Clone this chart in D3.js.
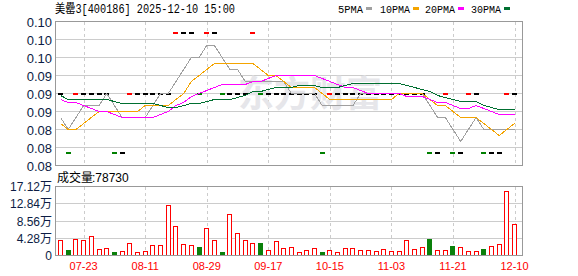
<!DOCTYPE html>
<html>
<head>
<meta charset="utf-8">
<script src="https://cdn.jsdelivr.net/npm/d3@7"></script>
<style>
  body { margin: 0; background: #fff; }
  svg { display: block; }
</style>
</head>
<body>
<div class="chart"></div>
<script>
// trading sessions (Mon/Wed/Fri), 2025
var dates = ["07-16","07-18","07-21","07-23","07-25","07-28","07-30","08-01","08-04","08-06",
  "08-08","08-11","08-13","08-15","08-18","08-20","08-22","08-25","08-27","08-29",
  "09-01","09-03","09-05","09-08","09-10","09-12","09-15","09-17","09-19","09-22",
  "09-24","09-26","09-29","10-10","10-13","10-15","10-17","10-20","10-22","10-24",
  "10-27","10-29","10-31","11-03","11-05","11-07","11-10","11-12","11-14","11-17",
  "11-19","11-21","11-24","11-26","11-28","12-01","12-03","12-05","12-08","12-10"];

var closes = [0.09,0.08,0.09,0.09,0.09,0.09,0.09,0.08,0.08,0.09,
  0.09,0.09,0.09,0.09,0.09,0.10,0.10,0.10,0.09,0.10,
  0.10,0.09,0.09,0.09,0.09,0.10,0.09,0.09,0.09,0.09,
  0.09,0.09,0.09,0.09,0.08,0.09,0.09,0.09,0.09,0.09,
  0.09,0.09,0.09,0.09,0.09,0.09,0.09,0.09,0.08,0.08,
  0.09,0.08,0.08,0.09,0.09,0.08,0.08,0.08,0.09,0.09];

// the 29 sessions before 07-16, only needed for the moving averages
var earlierCloses = [0.10,0.09,0.09,0.09,0.09,0.09,0.09,0.09,0.09,0.09,
  0.09,0.09,0.10,0.10,0.10,0.09,0.09,0.09,0.09,0.09,
  0.09,0.09,0.08,0.08,0.08,0.09,0.08,0.08,0.09];

var volumes = [37800,12600,40000,37800,47800,15000,17600,7500,10000,30000,
  7500,10000,25000,25000,125000,73000,27700,25000,21000,68000,
  37800,7500,103000,55000,37800,30000,30000,12600,35000,17600,
  20000,7500,12600,17600,7500,12600,7500,17600,17600,12600,
  12600,10000,15000,10000,10000,37800,15000,20000,40000,12600,
  12600,22700,20000,10000,10000,15000,22700,27700,161000,78730];

var priceTicks = [0.102,0.099,0.096,0.093,0.090,0.087,0.084,0.081,0.078];
var volTicks = [0,42800,85600,128400,171200];
var volTickLabels = ["0","4.28万","8.56万","12.84万","17.12万"];
var xTickDates = ["07-23","08-11","08-29","09-17","10-15","11-03","11-21","12-10"];

var maPeriods = [5,10,20,30];
var maNames = ["5PMA","10PMA","20PMA","30PMA"];
var maColors = ["#a0a0a0","#f4a400","#ff00ff","#006f30"];

var W = 578, H = 276;
var left = 55.5, right = 522.5;

var svg = d3.select(".chart")
  .append("svg")
    .attr("width",W)
    .attr("height",H);

var x = d3.scaleBand()
  .domain(dates)
  .range([56.7, 56.7 + 7.695*dates.length]);

var y = d3.scaleLinear()
  .domain([0.078,0.102])
  .range([165.5,21.5]);

var yv = d3.scaleLinear()
  .domain([0,171200])
  .range([255.5,186.5]);

var cx = function(d){ return x(d) + x.bandwidth()/2; };

// title
svg.append("text")
  .attr("x",55)
  .attr("y",13)
  .attr("fill","#000")
  .style("font-family","'Liberation Mono','Noto Sans CJK SC',monospace")
  .style("font-size","12px")
  .attr("textLength",180)
  .attr("lengthAdjust","spacingAndGlyphs")
  .text("美罍3[400186] 2025-12-10 15:00");

// legend
var legendX = [338,380,425,471];
var legendW = [25,30,30,30];
maNames.forEach(function(n,i){
  svg.append("text")
    .attr("x",legendX[i])
    .attr("y",13)
    .attr("fill","#000")
    .style("font-family","'Liberation Mono',monospace")
    .style("font-size","11px")
    .attr("textLength",legendW[i])
    .attr("lengthAdjust","spacingAndGlyphs")
    .text(n);
  svg.append("rect")
    .attr("x",legendX[i]+legendW[i]+3)
    .attr("y",7)
    .attr("width",6)
    .attr("height",3)
    .attr("fill",maColors[i]);
});

// price grid
svg.selectAll(".pgrid")
  .data(priceTicks)
  .enter().append("line")
    .attr("x1",left).attr("x2",right)
    .attr("y1",function(d){ return Math.round(y(d)-0.5)+0.5; })
    .attr("y2",function(d){ return Math.round(y(d)-0.5)+0.5; })
    .attr("stroke","#cccccc")
    .attr("shape-rendering","crispEdges");

svg.selectAll(".plabel")
  .data(priceTicks)
  .enter().append("text")
    .attr("x",52)
    .attr("y",function(d){ return y(d)+5; })
    .attr("text-anchor","end")
    .attr("fill","#0c1c44")
    .style("font-family","'Liberation Sans',Arial,sans-serif")
    .style("font-size","13px")
    .text(function(d){ return d.toFixed(2); });

svg.selectAll(".pvgrid")
  .data(xTickDates)
  .enter().append("line")
    .attr("x1",function(d){ return Math.round(cx(d))+0.5; })
    .attr("x2",function(d){ return Math.round(cx(d))+0.5; })
    .attr("y1",22).attr("y2",165)
    .attr("stroke","#cccccc")
    .attr("stroke-dasharray","3,3")
    .attr("shape-rendering","crispEdges");

// watermark
svg.append("text")
  .attr("x",238)
  .attr("y",107)
  .attr("fill","#e6e6ea")
  .style("font-family","'Noto Sans CJK SC',sans-serif")
  .style("font-size","36px")
  .style("font-weight","bold")
  .text("东方财富");

// candles (open = close on every session)
var prevClose = function(i){ return i === 0 ? earlierCloses[earlierCloses.length-1] : closes[i-1]; };
var candleColor = function(c,i){
  var p = prevClose(i);
  return c > p ? "#ff0000" : (c < p ? "#008000" : "#000000");
};

svg.selectAll(".candle")
  .data(closes)
  .enter().append("rect")
    .attr("x",function(d,i){ return Math.round(cx(dates[i])-2.5); })
    .attr("y",function(d){ return Math.round(y(d)-1); })
    .attr("width",5)
    .attr("height",1.5)
    .attr("fill",candleColor)
    .attr("shape-rendering","crispEdges");

// moving averages
var allCloses = earlierCloses.concat(closes);
var off = earlierCloses.length;
maPeriods.forEach(function(n,k){
  var ma = closes.map(function(c,i){
    return d3.mean(allCloses.slice(off+i-n+1, off+i+1));
  });
  svg.append("path")
    .datum(ma)
    .attr("fill","none")
    .attr("stroke",maColors[k])
    .attr("stroke-width",1)
    .attr("shape-rendering","crispEdges")
    .attr("d",d3.line()
      .x(function(d,i){ return cx(dates[i]); })
      .y(function(d){ return y(d); }));
});

// price frame
svg.append("rect")
  .attr("x",left).attr("y",21.5)
  .attr("width",right-left).attr("height",144)
  .attr("fill","none")
  .attr("stroke","#999")
  .attr("shape-rendering","crispEdges");

// volume header
svg.append("text")
  .attr("x",57)
  .attr("y",182)
  .attr("fill","#000")
  .style("font-family","'Noto Sans CJK SC',sans-serif")
  .style("font-size","12px")
  .text("成交量");
svg.append("text")
  .attr("x",92)
  .attr("y",182)
  .attr("fill","#000")
  .style("font-family","'Liberation Sans',Arial,sans-serif")
  .style("font-size","12px")
  .text(":" + volumes[volumes.length-1]);

// volume grid
svg.selectAll(".vgrid")
  .data(volTicks.slice(1,4))
  .enter().append("line")
    .attr("x1",left).attr("x2",right)
    .attr("y1",function(d){ return Math.round(yv(d)-0.5)+0.5; })
    .attr("y2",function(d){ return Math.round(yv(d)-0.5)+0.5; })
    .attr("stroke","#cccccc")
    .attr("shape-rendering","crispEdges");

svg.selectAll(".vvgrid")
  .data(xTickDates)
  .enter().append("line")
    .attr("x1",function(d){ return Math.round(cx(d))+0.5; })
    .attr("x2",function(d){ return Math.round(cx(d))+0.5; })
    .attr("y1",187).attr("y2",255)
    .attr("stroke","#cccccc")
    .attr("stroke-dasharray","3,3")
    .attr("shape-rendering","crispEdges");

svg.selectAll(".vlabel")
  .data(volTicks)
  .enter().append("text")
    .attr("x",52)
    .attr("y",function(d){ return yv(d)+4.5; })
    .attr("text-anchor","end")
    .attr("fill","#0c1c44")
    .style("font-family","'Liberation Sans','Noto Sans CJK SC',sans-serif")
    .style("font-size","12px")
    .text(function(d,i){ return volTickLabels[i]; });

// volume bars
svg.selectAll(".vol")
  .data(volumes)
  .enter().append("rect")
    .attr("x",function(d,i){ return Math.round(cx(dates[i])-2.5)+0.5; })
    .attr("y",function(d){ return Math.round(yv(d))+0.5; })
    .attr("width",4)
    .attr("height",function(d){ return Math.max(1, yv(0) - Math.round(yv(d)) - 1); })
    .attr("fill",function(d,i){ return closes[i] < prevClose(i) ? "#0a800a" : "#fff"; })
    .attr("stroke",function(d,i){ return closes[i] < prevClose(i) ? "#0a800a" : "#ff0000"; })
    .attr("shape-rendering","crispEdges");

// volume frame
svg.append("rect")
  .attr("x",left).attr("y",186.5)
  .attr("width",right-left).attr("height",69)
  .attr("fill","none")
  .attr("stroke","#999")
  .attr("shape-rendering","crispEdges");

// date labels
svg.selectAll(".xlabel")
  .data(xTickDates)
  .enter().append("text")
    .attr("x",function(d){ return cx(d); })
    .attr("y",270)
    .attr("text-anchor","middle")
    .attr("fill","#ff0000")
    .style("font-family","'Liberation Sans',Arial,sans-serif")
    .style("font-size","11px")
    .text(function(d){ return d; });
</script>
</body>
</html>
